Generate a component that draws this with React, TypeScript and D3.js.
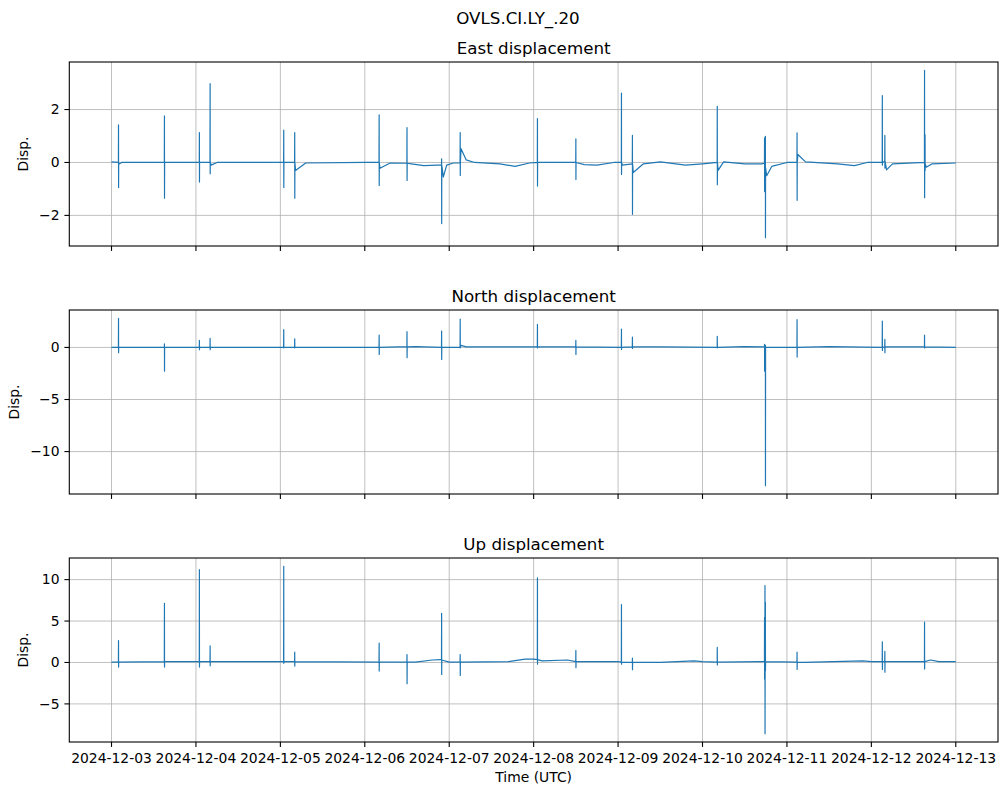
import React from "react"
import * as d3 from "d3"

// event tuples: [day since 2024-12-03 00:00 UTC, level, high, low]
const eastSpikes: number[][] = [
  [0.083, 0.0, 1.42, -0.95],
  [0.627, 0.0, 1.76, -1.35],
  [1.041, 0.0, 1.13, -0.74],
  [1.168, 0.0, 2.98, -0.43],
  [2.04, 0.0, 1.22, -0.95],
  [2.17, 0.0, 1.13, -1.35],
  [3.17, 0.0, 1.8, -0.87],
  [3.5, -0.03, 1.32, -0.68],
  [3.91, -0.1, 0.14, -2.31],
  [4.13, -0.02, 1.13, -0.49],
  [5.045, 0.0, 1.66, -0.89],
  [5.5, 0.0, 0.89, -0.64],
  [6.04, 0.0, 2.62, -0.45],
  [6.17, -0.05, 1.02, -1.96],
  [7.175, 0.0, 2.12, -0.84],
  [7.735, -0.03, 0.93, -1.1],
  [7.745, -0.2, 0.99, -2.84],
  [8.12, 0.0, 1.12, -1.43],
  [9.13, 0.0, 2.53, -0.1],
  [9.16, 0.05, 1.02, -0.21],
  [9.63, 0.0, 3.48, -1.33],
  [9.636, -0.05, 1.05, -0.3],
]

// slow drift of the east trace between events: [day, value]
const eastBase: number[][] = [
  [0, 0.02], [0.09, -0.06], [0.12, 0.0], [0.5, 0.0], [1.0, 0.0], [1.18, -0.1],
  [1.25, 0.0], [2.0, 0.0], [2.18, -0.3], [2.3, -0.02], [3.0, 0.0], [3.18, -0.22],
  [3.3, -0.02], [3.55, -0.05], [3.7, -0.12], [3.85, -0.1], [3.93, -0.55],
  [3.97, -0.1], [4.05, -0.02], [4.14, 0.52], [4.2, 0.1], [4.3, 0.0], [4.6, -0.05],
  [4.78, -0.15], [4.95, -0.02], [5.1, 0.0], [5.3, 0.0], [5.6, -0.08], [5.75, -0.1],
  [5.95, 0.0], [6.05, -0.1], [6.18, -0.38], [6.3, -0.05], [6.5, 0.02], [6.8, -0.1],
  [7.0, -0.05], [7.185, -0.3], [7.25, 0.02], [7.5, -0.05], [7.7, -0.05],
  [7.76, -0.5], [7.82, -0.15], [8.0, 0.0], [8.13, 0.3], [8.22, 0.02], [8.6, -0.05],
  [8.8, -0.12], [8.95, 0.0], [9.1, 0.0], [9.18, -0.28], [9.25, -0.05],
  [9.65, -0.18], [9.72, -0.05], [10.0, -0.02],
]

const northSpikes: number[][] = [
  [0.083, 0.0, 2.79, -0.5],
  [0.627, 0.0, 0.35, -2.28],
  [1.041, 0.0, 0.67, -0.22],
  [1.168, 0.0, 0.87, -0.22],
  [2.04, 0.0, 1.7, -0.05],
  [2.17, 0.0, 0.83, -0.05],
  [3.17, 0.0, 1.18, -0.67],
  [3.5, 0.05, 1.51, -0.99],
  [3.91, 0.0, 1.57, -1.15],
  [4.13, 0.0, 2.72, -0.05],
  [5.045, 0.05, 2.21, -0.05],
  [5.5, 0.05, 0.67, -0.67],
  [6.04, 0.0, 1.76, -0.2],
  [6.17, 0.05, 0.99, -0.1],
  [7.175, 0.0, 1.06, -0.05],
  [7.735, 0.05, 0.29, -2.28],
  [7.745, 0.0, 0.2, -13.27],
  [8.12, 0.0, 2.66, -0.93],
  [9.13, 0.0, 2.53, -0.29],
  [9.16, 0.05, 0.77, -0.51],
  [9.63, 0.05, 1.18, -0.05],
]

const northBase: number[][] = [
  [0, 0.0], [3.4, 0.05], [3.6, 0.08], [4.14, 0.2], [4.2, 0.05], [6.5, 0.05],
  [7.5, 0.08], [8.5, 0.08], [10.0, 0.0],
]

const upSpikes: number[][] = [
  [0.083, 0.05, 2.65, -0.56],
  [0.627, 0.1, 7.15, -0.56],
  [1.041, 0.1, 11.2, -0.56],
  [1.168, 0.1, 2.0, -0.4],
  [2.04, 0.1, 11.6, -0.1],
  [2.17, 0.1, 1.24, -0.44],
  [3.17, 0.05, 2.33, -1.04],
  [3.5, 0.05, 0.96, -2.57],
  [3.91, 0.3, 5.94, -1.45],
  [4.13, 0.05, 0.96, -1.57],
  [5.045, 0.35, 10.2, -0.2],
  [5.5, 0.1, 1.45, -0.64],
  [6.04, 0.05, 6.99, -0.2],
  [6.17, 0.0, 0.52, -0.88],
  [7.175, 0.05, 1.81, -0.3],
  [7.735, 0.1, 5.46, -2.0],
  [7.74, 0.1, 9.28, -8.59],
  [7.745, 0.1, 7.27, -1.0],
  [8.12, 0.05, 1.24, -0.84],
  [9.13, 0.1, 2.49, -0.84],
  [9.16, 0.1, 1.35, -1.17],
  [9.63, 0.1, 4.86, -0.8],
]

const upBase: number[][] = [
  [0, 0.05], [1.0, 0.1], [3.6, 0.05], [3.8, 0.3], [3.9, 0.35], [4.0, 0.05],
  [4.7, 0.1], [4.9, 0.4], [5.0, 0.4], [5.1, 0.2], [5.4, 0.3], [6.0, 0.1],
  [6.5, 0.0], [6.9, 0.2], [7.0, 0.1], [7.7, 0.1], [8.2, 0.0], [8.9, 0.2],
  [9.0, 0.1], [9.6, 0.1], [9.7, 0.3], [9.8, 0.1], [10.0, 0.1],
]

const panels = [
  { title: "East displacement", spikes: eastSpikes, base: eastBase, ticks: [-2, 0, 2] },
  { title: "North displacement", spikes: northSpikes, base: northBase, ticks: [-10, -5, 0] },
  { title: "Up displacement", spikes: upSpikes, base: upBase, ticks: [-5, 0, 5, 10] },
]

const dayLabels = [
  "2024-12-03", "2024-12-04", "2024-12-05", "2024-12-06", "2024-12-07", "2024-12-08",
  "2024-12-09", "2024-12-10", "2024-12-11", "2024-12-12", "2024-12-13",
]

const W = 1008
const H = 795
const left = 69.3
const right = 998
const tops = [62, 310, 558]
const ph = 184
const font = "DejaVu Sans, sans-serif"
const blue = "#1f77b4"
const t0 = Date.UTC(2024, 11, 3)
const DAY = 86400000

function buildSeries(spikes: number[][], base: number[][]) {
  const pts: [number, number][] = base.map((b) => [b[0], b[1]])
  spikes.forEach(([d, lvl, hi, lo]) => {
    pts.push([d - 0.0015, lvl], [d, hi], [d + 0.0008, lo], [d + 0.002, lvl])
  })
  pts.sort((a, b) => a[0] - b[0])
  return pts
}

const fmt = (v: number) => (v < 0 ? "\u2212" + Math.abs(v) : String(v))

export default function App() {
  const x = d3
    .scaleUtc()
    .domain([new Date(t0 - 0.5 * DAY), new Date(t0 + 10.5 * DAY)])
    .range([left, right])
  const tickDates = dayLabels.map((s) => new Date(s + "T00:00:00Z"))

  return (
    <svg
      width={W}
      height={H}
      style={{ position: "absolute", left: 0, top: 0, background: "#fff" }}
      fontFamily={font}
    >
      <rect width={W} height={H} fill="#fff" />
      <text x={518} y={24} fontSize={16.7} textAnchor="middle">
        OVLS.CI.LY_.20
      </text>
      {panels.map((p, i) => {
        const top = tops[i]
        const pts = buildSeries(p.spikes, p.base)
        const ext = d3.extent(pts, (d) => d[1]) as [number, number]
        const pad = (ext[1] - ext[0]) * 0.05
        const y = d3
          .scaleLinear()
          .domain([ext[0] - pad, ext[1] + pad])
          .range([top + ph, top])
        const line = d3
          .line<[number, number]>()
          .x((d) => x(new Date(t0 + d[0] * DAY)))
          .y((d) => y(d[1]))
        const last = i === panels.length - 1
        return (
          <g key={p.title}>
            <defs>
              <clipPath id={"clip" + i}>
                <rect x={left} y={top} width={right - left} height={ph} />
              </clipPath>
            </defs>
            {tickDates.map((d, j) => (
              <line key={"gx" + j} x1={x(d)} x2={x(d)} y1={top} y2={top + ph} stroke="#b0b0b0" strokeWidth={0.8} />
            ))}
            {p.ticks.map((v) => (
              <line key={"gy" + v} x1={left} x2={right} y1={y(v)} y2={y(v)} stroke="#b0b0b0" strokeWidth={0.8} />
            ))}
            <path
              d={line(pts) || ""}
              fill="none"
              stroke={blue}
              strokeWidth={1.2}
              strokeLinejoin="round"
              clipPath={`url(#clip${i})`}
            />
            <rect x={left} y={top} width={right - left} height={ph} fill="none" stroke="#000" strokeWidth={1.1} />
            {tickDates.map((d, j) => (
              <line key={"tx" + j} x1={x(d)} x2={x(d)} y1={top + ph} y2={top + ph + 4.9} stroke="#000" strokeWidth={1.1} />
            ))}
            {p.ticks.map((v) => (
              <g key={"ty" + v}>
                <line x1={left - 4.9} x2={left} y1={y(v)} y2={y(v)} stroke="#000" strokeWidth={1.1} />
                <text x={left - 9.8} y={y(v)} dy="0.35em" fontSize={13.9} textAnchor="end">
                  {fmt(v)}
                </text>
              </g>
            ))}
            <text x={(left + right) / 2} y={top - 8} fontSize={16.7} textAnchor="middle">
              {p.title}
            </text>
            <text
              transform={`translate(${i === 1 ? 19 : 28},${top + ph / 2}) rotate(-90)`}
              fontSize={13.9}
              textAnchor="middle"
            >
              Disp.
            </text>
            {last &&
              tickDates.map((d, j) => (
                <text key={"lx" + j} x={x(d)} y={763} fontSize={13.9} textAnchor="middle">
                  {dayLabels[j]}
                </text>
              ))}
          </g>
        )
      })}
      <text x={(left + right) / 2} y={782} fontSize={13.9} textAnchor="middle">
        Time (UTC)
      </text>
    </svg>
  )
}
